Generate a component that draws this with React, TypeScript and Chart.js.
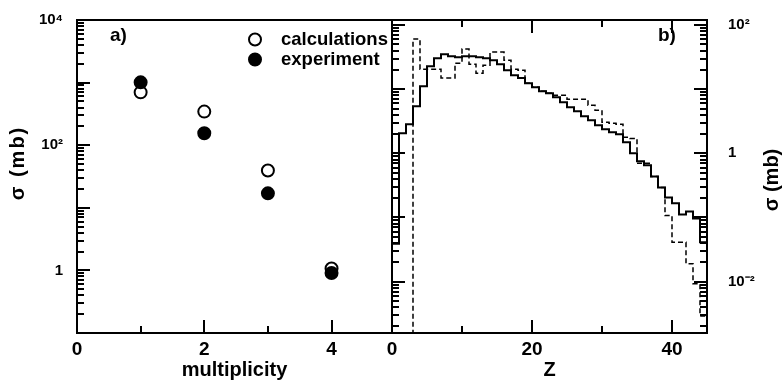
import React, { useEffect, useRef } from "react";
import { Chart, registerables } from "chart.js";

Chart.register(...registerables);

// ---------- panel a) ----------
const multiplicity = [1, 2, 3, 4];
const calculations = [698, 344, 39.5, 1.07];
const experiment = [1010, 155, 17, 0.91];

const multTicks = [0, 2, 4];
const multMinor = [1, 3];
const sigmaATicks = [1, 100, 10000];
const sigmaALabels = ["1", "10²", "10⁴"];

// ---------- panel b) ----------
const zEdges = [
  0, 1, 2, 3, 4, 5, 6, 7, 8, 9, 10, 11, 12, 13, 14, 15, 16, 17, 18, 19, 20, 21, 22,
  23, 24, 25, 26, 27, 28, 29, 30, 31, 32, 33, 34, 35, 36, 37, 38, 39, 40, 41, 42, 43,
  44, 45,
];
const zSolid = [
  0.039, 2.05, 2.84, 5.42, 11.1, 22.9, 30.5, 35.2, 32.8, 31.6, 32.8, 32.8, 31.6, 30.5,
  28.4, 24.6, 19.8, 16.5, 14.9, 12.4, 10.7, 9.3, 8.66, 7.5, 6.26, 5.23, 4.53, 3.79, 3.28,
  2.74, 2.37, 2.13, 1.98, 1.49, 1.0, 0.75, 0.65, 0.437, 0.294, 0.205, 0.166, 0.111, 0.124,
  0.096, 0.041,
];
const zDashed = [
  0.0001, 0.0001, 0.0001, 60.4, 20.5, 20.5, 20.5, 14.9, 14.9, 25.5, 42.2, 24.6, 17.8, 23.7,
  37.9, 37.9, 28.4, 20.5, 19.8, 12.4, 10.7, 9.3, 8.66, 8.06, 8.06, 6.98, 6.98, 6.98, 5.62,
  4.7, 3.05, 2.94, 2.84, 1.78, 1.71, 0.7, 0.7, 0.437, 0.294, 0.107, 0.041, 0.041, 0.019,
  0.0093, 0.0029,
];
const zTicks = [0, 20, 40];
const zMinor = [10, 30];
const sigmaBTicks = [0.01, 1, 100];
const sigmaBLabels = ["10⁻²", "1", "10²"];

const FONT = '"Liberation Sans", Arial, Helvetica, sans-serif';

function logTickValues(min: number, max: number) {
  const out: { v: number; major: boolean }[] = [];
  const e0 = Math.floor(Math.log10(min));
  const e1 = Math.ceil(Math.log10(max));
  for (let e = e0; e <= e1; e++) {
    for (let k = 1; k <= 9; k++) {
      const v = k * Math.pow(10, e);
      if (v >= min * 0.9999 && v <= max * 1.0001) out.push({ v, major: k === 1 });
    }
  }
  return out;
}

function makeFrame(cfg: {
  yLeft: boolean;
  yRight: boolean;
  xTop: boolean;
  xMajor: number[];
  xMinor: number[];
}) {
  return {
    id: "frame",
    afterDraw(chart: any) {
      const { ctx, chartArea: ca, scales } = chart;
      const xs = scales.x;
      const ys = scales.y;
      ctx.save();
      ctx.strokeStyle = "#000";
      ctx.lineCap = "butt";
      ctx.lineWidth = 2;
      const seg = (x1: number, y1: number, x2: number, y2: number) => {
        ctx.beginPath();
        ctx.moveTo(x1, y1);
        ctx.lineTo(x2, y2);
        ctx.stroke();
      };
      const L = Math.round(ca.left);
      const R = Math.round(ca.right);
      const T = Math.round(ca.top);
      const B = Math.round(ca.bottom);
      for (const t of logTickValues(ys.min, ys.max)) {
        const py = Math.round(ys.getPixelForValue(t.v));
        const len = t.major ? 13 : 7;
        if (cfg.yLeft) seg(L, py, L + len, py);
        if (cfg.yRight) seg(R - len, py, R, py);
      }
      const xt = (vals: number[], len: number) => {
        for (const v of vals) {
          const px = Math.round(xs.getPixelForValue(v));
          seg(px, B, px, B - len);
          if (cfg.xTop) seg(px, T, px, T + len);
        }
      };
      xt(cfg.xMajor, 13);
      xt(cfg.xMinor, 7);
      ctx.strokeRect(L, T, R - L, B - T);
      ctx.restore();
    },
  };
}

function makeTexts(cfg: {
  panel: string;
  panelDx: number;
  yTitle: string;
  titleFromRight: boolean;
  titleDx: number;
  titleDy: number;
  titleSpacing: number;
  legend: boolean;
}) {
  return {
    id: "texts",
    afterDraw(chart: any) {
      const { ctx, chartArea: ca } = chart;
      ctx.save();
      ctx.fillStyle = "#000";
      ctx.textBaseline = "middle";
      ctx.textAlign = "left";
      ctx.font = `bold 19px ${FONT}`;
      ctx.fillText(cfg.panel, ca.left + cfg.panelDx, ca.top + 16);

      ctx.save();
      const tx = (cfg.titleFromRight ? ca.right : ca.left) + cfg.titleDx;
      ctx.translate(tx, ca.top + cfg.titleDy);
      ctx.rotate(-Math.PI / 2);
      ctx.textAlign = "center";
      ctx.font = `bold 20px ${FONT}`;
      try {
        (ctx as any).letterSpacing = `${cfg.titleSpacing}px`;
      } catch (e) {}
      ctx.fillText(cfg.yTitle, 0, 0);
      ctx.restore();

      if (cfg.legend) {
        chart.data.datasets.forEach((ds: any, i: number) => {
          const cx = ca.left + 178;
          const cy = ca.top + 19.5 + i * 20;
          ctx.beginPath();
          ctx.arc(cx, cy, 6, 0, Math.PI * 2);
          ctx.fillStyle = ds.backgroundColor;
          ctx.fill();
          ctx.lineWidth = 2;
          ctx.strokeStyle = ds.borderColor;
          ctx.stroke();
          ctx.fillStyle = "#000";
          ctx.font = `bold 18.5px ${FONT}`;
          ctx.textAlign = "left";
          ctx.fillText(ds.label, cx + 26, cy);
        });
      }
      ctx.restore();
    },
  };
}

const tickFont = (size: number) => ({ family: FONT, size, weight: "bold" as const });

const fixSize = (w: number | null, h: number | null) => (s: any) => {
  if (w !== null) s.width = w;
  if (h !== null) s.height = h;
  s.paddingTop = 0;
  s.paddingBottom = 0;
  s.paddingLeft = 0;
  s.paddingRight = 0;
};

export default function App() {
  const leftRef = useRef<HTMLCanvasElement>(null);
  const rightRef = useRef<HTMLCanvasElement>(null);

  useEffect(() => {
    const left = new Chart(leftRef.current as HTMLCanvasElement, {
      type: "scatter",
      data: {
        datasets: [
          {
            label: "calculations",
            data: multiplicity.map((m, i) => ({ x: m, y: calculations[i] })),
            backgroundColor: "#fff",
            borderColor: "#000",
            borderWidth: 2,
            pointRadius: 6,
            order: 1,
          },
          {
            label: "experiment",
            data: multiplicity.map((m, i) => ({ x: m, y: experiment[i] })),
            backgroundColor: "#000",
            borderColor: "#000",
            borderWidth: 2,
            pointRadius: 6,
            order: 0,
          },
        ],
      },
      options: {
        responsive: false,
        animation: false,
        events: [],
        layout: { padding: { left: 0, top: 20, right: 8, bottom: 0 } },
        plugins: { legend: { display: false }, tooltip: { enabled: false } },
        scales: {
          x: {
            type: "linear",
            bounds: "data",
            min: 0,
            max: 4.95,
            grid: { display: false, drawTicks: false },
            border: { display: false },
            afterBuildTicks: (s: any) => {
              s.ticks = multTicks.map((v) => ({ value: v }));
            },
            afterFit: fixSize(null, 49),
            ticks: {
              autoSkip: false,
              maxRotation: 0,
              padding: 5,
              color: "#000",
              font: tickFont(19),
              callback: (v: any) => String(v),
            },
            title: {
              display: true,
              text: "multiplicity",
              color: "#000",
              font: tickFont(20),
              padding: { top: 0, bottom: 0 },
            },
          },
          y: {
            type: "logarithmic",
            bounds: "data",
            min: 0.1,
            max: 10000,
            grid: { display: false, drawTicks: false },
            border: { display: false },
            afterBuildTicks: (s: any) => {
              s.ticks = sigmaATicks.map((v) => ({ value: v }));
            },
            afterFit: fixSize(77, null),
            ticks: {
              autoSkip: false,
              padding: 14,
              color: "#000",
              font: tickFont(15),
              callback: (v: any) => sigmaALabels[sigmaATicks.indexOf(Number(v))] ?? "",
            },
          },
        },
      },
      plugins: [
        makeFrame({ yLeft: true, yRight: false, xTop: false, xMajor: multTicks, xMinor: multMinor }),
        makeTexts({
          panel: "a)",
          panelDx: 33,
          yTitle: "σ (mb)",
          titleFromRight: false,
          titleDx: -59,
          titleDy: 143,
          titleSpacing: 2,
          legend: true,
        }),
      ],
    } as any);

    const histPoints = (vals: number[]) =>
      zEdges.map((z, i) => ({ x: z, y: vals[Math.min(i, vals.length - 1)] }));

    const right = new Chart(rightRef.current as HTMLCanvasElement, {
      type: "line",
      data: {
        datasets: [
          {
            label: "calculations",
            data: histPoints(zSolid),
            stepped: true,
            borderColor: "#000",
            borderWidth: 2,
            pointRadius: 0,
            fill: false,
          },
          {
            label: "experiment",
            data: histPoints(zDashed),
            stepped: true,
            borderColor: "#000",
            borderWidth: 1.5,
            borderDash: [5, 3],
            pointRadius: 0,
            fill: false,
          },
        ],
      },
      options: {
        responsive: false,
        animation: false,
        events: [],
        layout: { padding: { left: 32, top: 20, right: 0, bottom: 0 } },
        plugins: { legend: { display: false }, tooltip: { enabled: false } },
        scales: {
          x: {
            type: "linear",
            bounds: "data",
            min: 0,
            max: 45,
            grid: { display: false, drawTicks: false },
            border: { display: false },
            afterBuildTicks: (s: any) => {
              s.ticks = zTicks.map((v) => ({ value: v }));
            },
            afterFit: fixSize(null, 49),
            ticks: {
              autoSkip: false,
              maxRotation: 0,
              padding: 5,
              color: "#000",
              font: tickFont(19),
              callback: (v: any) => String(v),
            },
            title: {
              display: true,
              text: "Z",
              color: "#000",
              font: tickFont(20),
              padding: { top: 0, bottom: 0 },
            },
          },
          y: {
            type: "logarithmic",
            position: "right",
            bounds: "data",
            min: 0.00158,
            max: 120,
            grid: { display: false, drawTicks: false },
            border: { display: false },
            afterBuildTicks: (s: any) => {
              s.ticks = sigmaBTicks.map((v) => ({ value: v }));
            },
            afterFit: fixSize(76, null),
            ticks: {
              autoSkip: false,
              padding: 21,
              color: "#000",
              font: tickFont(15),
              callback: (v: any) => sigmaBLabels[sigmaBTicks.indexOf(Number(v))] ?? "",
            },
          },
        },
      },
      plugins: [
        makeFrame({ yLeft: true, yRight: true, xTop: true, xMajor: zTicks, xMinor: zMinor }),
        makeTexts({
          panel: "b)",
          panelDx: 266,
          yTitle: "σ (mb)",
          titleFromRight: true,
          titleDx: 65,
          titleDy: 160,
          titleSpacing: 0,
          legend: false,
        }),
      ],
    } as any);

    return () => {
      left.destroy();
      right.destroy();
    };
  }, []);

  return (
    <div
      style={{
        position: "fixed",
        left: 0,
        top: 0,
        width: 783,
        height: 382,
        background: "#fff",
        overflow: "hidden",
      }}
    >
      <canvas
        ref={leftRef}
        width={400}
        height={382}
        style={{ position: "absolute", left: 0, top: 0, width: 400, height: 382 }}
      />
      <canvas
        ref={rightRef}
        width={423}
        height={382}
        style={{ position: "absolute", left: 360, top: 0, width: 423, height: 382 }}
      />
    </div>
  );
}
